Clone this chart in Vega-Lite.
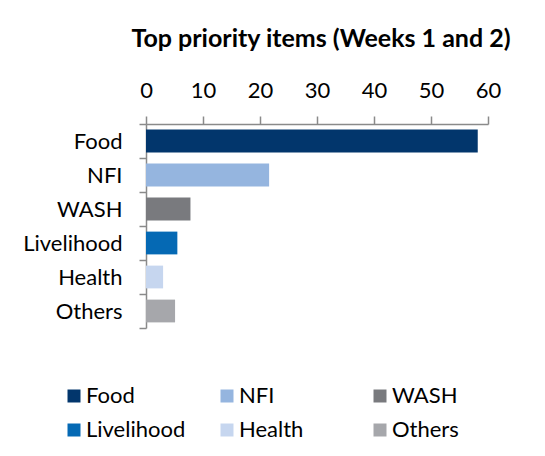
{
  "$schema": "https://vega.github.io/schema/vega-lite/v6.json",
  "width": 342,
  "height": 204,
  "autosize": {"type": "none"},
  "padding": {"left": 146, "top": 124, "right": 57, "bottom": 128},
  "background": "white",
  "title": {"text": "Top priority items (Weeks 1 and 2)", "font": "Lato", "fontSize": 25, "fontWeight": "bold", "color": "black", "anchor": "middle", "dx": 4, "offset": 27},
  "data": {"values": [
    {"item": "Food", "value": 58.2},
    {"item": "NFI", "value": 21.6},
    {"item": "WASH", "value": 7.8},
    {"item": "Livelihood", "value": 5.5},
    {"item": "Health", "value": 3.0},
    {"item": "Others", "value": 5.1}
  ]},
  "mark": {"type": "bar", "height": {"band": 0.67}},
  "encoding": {
    "y": {"field": "item", "type": "nominal", "sort": null,
      "scale": {"paddingInner": 0, "paddingOuter": 0},
      "axis": {"title": null, "tickBand": "extent", "labelFont": "Lato", "labelFontSize": 22, "labelColor": "black", "labelPadding": 17, "domainColor": "#8a8a8a", "tickColor": "#8a8a8a", "tickSize": 7, "domainWidth": 1.5, "tickWidth": 1.5, "grid": false}},
    "x": {"field": "value", "type": "quantitative",
      "scale": {"domain": [0, 60], "nice": false},
      "axis": {"orient": "top", "title": null, "values": [0, 10, 20, 30, 40, 50, 60], "grid": false, "labelFont": "Lato", "labelFontSize": 22, "labelColor": "black", "labelPadding": 14, "tickSize": 8, "domainColor": "#8a8a8a", "tickColor": "#8a8a8a", "domainWidth": 1.5, "tickWidth": 1.5, "labelFlush": false}},
    "color": {"field": "item", "type": "nominal", "sort": null,
      "scale": {"domain": ["Food", "NFI", "WASH", "Livelihood", "Health", "Others"], "range": ["#02366c", "#95b5df", "#797a7e", "#0569b4", "#c6d6ef", "#a6a7ab"]},
      "legend": {"orient": "none", "legendX": -83, "legendY": 261, "direction": "horizontal", "columns": 3, "gridAlign": "all", "columnPadding": 30, "rowPadding": 12, "symbolType": "square", "symbolSize": 169, "symbolStrokeWidth": 0, "symbolOpacity": 1, "labelOffset": 1, "labelFont": "Lato", "labelFontSize": 22, "labelColor": "black", "title": null, "padding": 0, "labelLimit": 200}}
  },
  "config": {"view": {"stroke": null}}
}
